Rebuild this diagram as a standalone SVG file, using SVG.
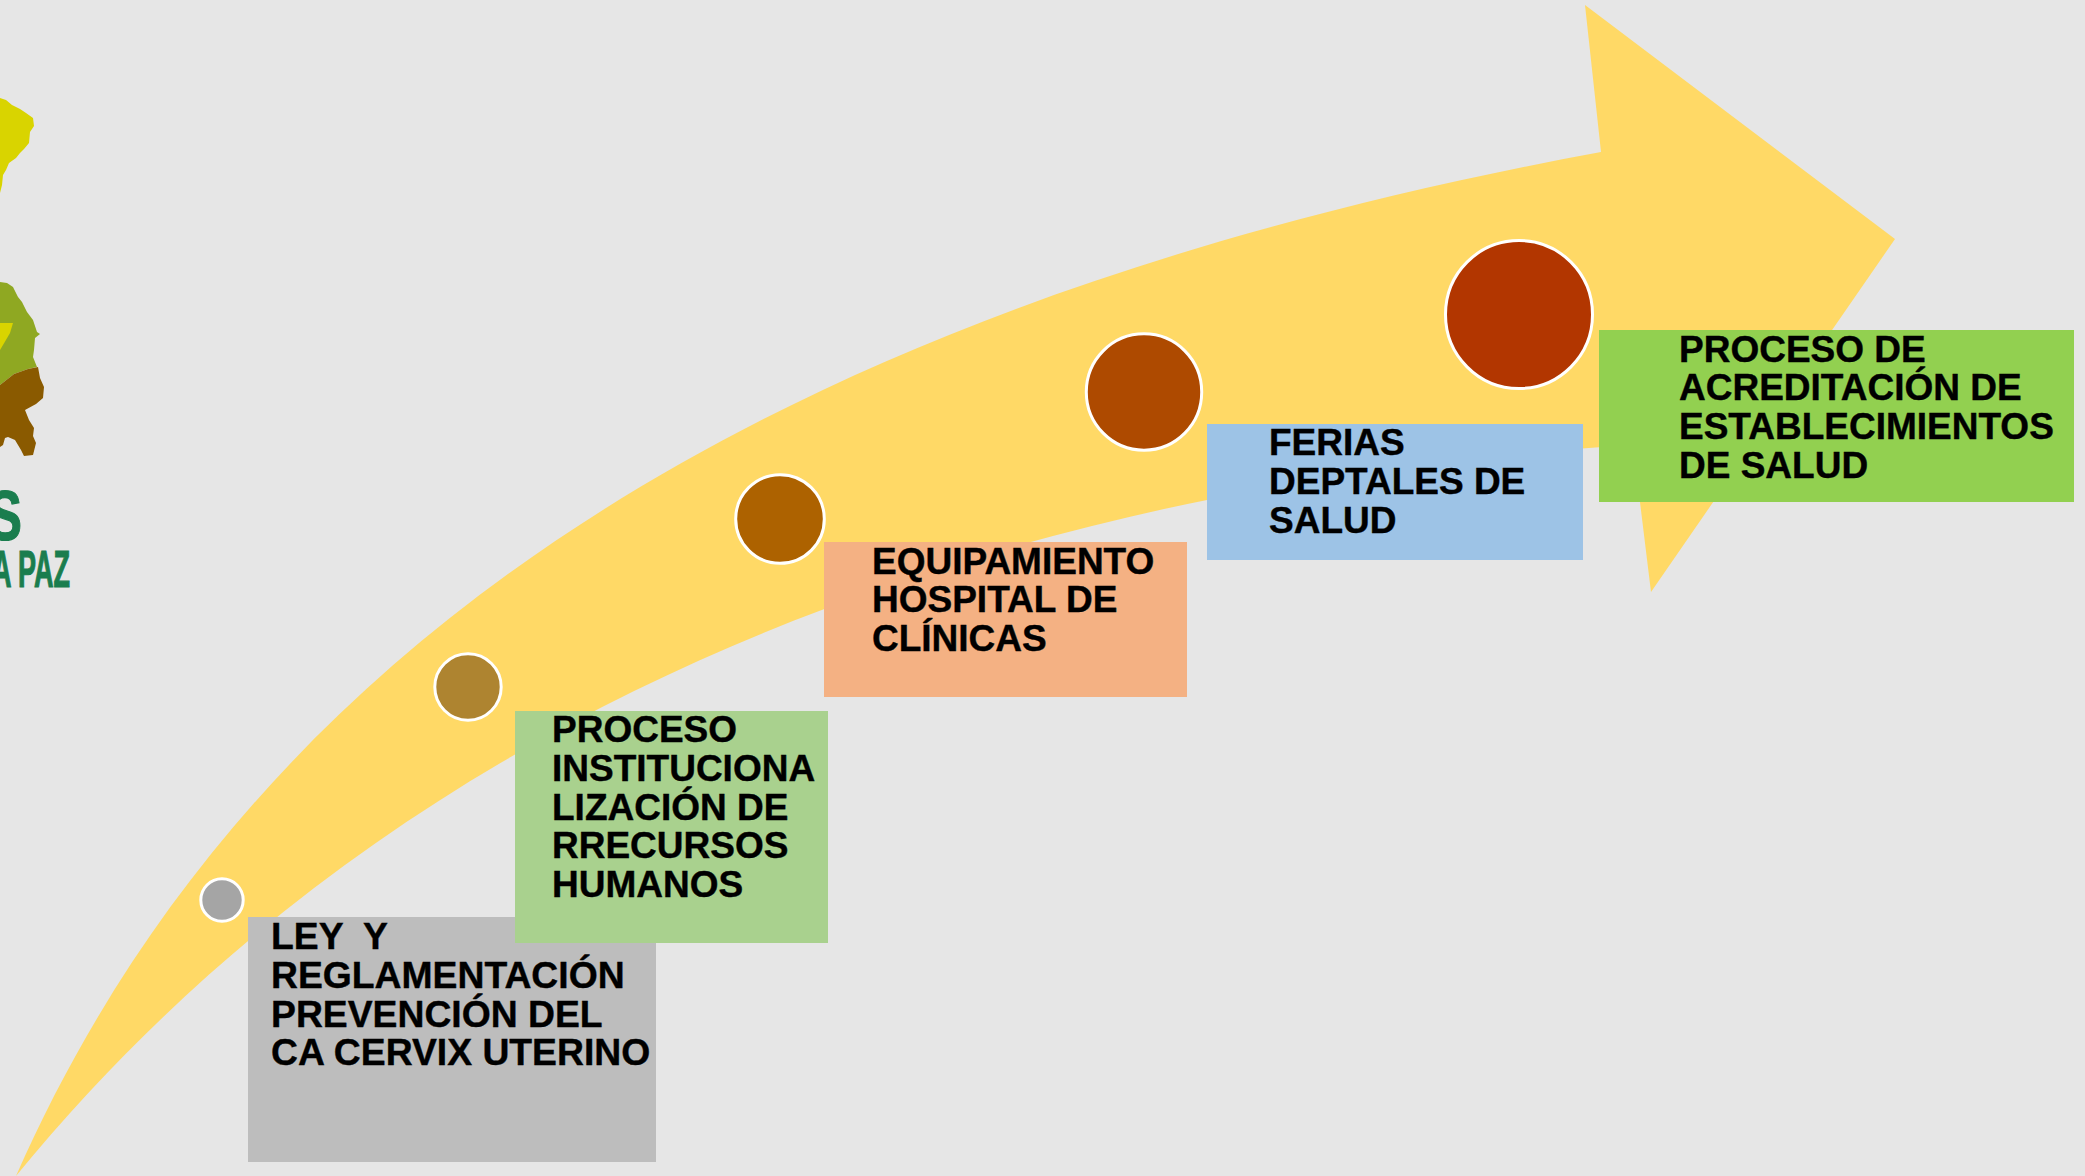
<svg xmlns="http://www.w3.org/2000/svg" width="2085" height="1176" viewBox="0 0 2085 1176">
<style>
.t{font-family:"Liberation Sans",Arial,sans-serif;font-weight:700;font-size:37px;fill:#000;stroke:#000;stroke-width:.4;white-space:pre}
.w{font-size:37.3px}
.c{stroke:#fff;stroke-width:3}
.l{font-family:"Liberation Sans",Arial,sans-serif;font-weight:700;fill:#1a7d4e;stroke:#1a7d4e;stroke-width:1.2}
</style>
<rect width="2085" height="1176" fill="#e6e6e6"/>
<g id="logo">
<path d="M0 98L6 100 12 105 20 109 26 113 33 118 34 126 30 132 29 143 24 149 20 153 16 158 9 163 6 170 3 175 2 185 0 193Z" fill="#d9d400"/>
<path d="M0 282L7 283 13 287 18 297 22 302 27 312 33 320 37 332 40 334 35 338 34 350 33 357 37 367 28 369 14 374 0 385Z" fill="#8fa822"/>
<path d="M0 323L13 323 10 333 3 345 0 350Z" fill="#d9d400"/>
<path d="M0 385L14 374 28 369 38 367 40 378 44 387 43 398 36 404 25 410 29 420 34 428 33 436 36 443 33 455 24 456 21 450 15 440 8 437 5 438 3 445 0 447Z" fill="#8a5a00"/>
<text class="l" font-size="70" x="-12" y="540" textLength="34" lengthAdjust="spacingAndGlyphs">S</text>
<text class="l" font-size="51" x="-8" y="587" textLength="78" lengthAdjust="spacingAndGlyphs">A PAZ</text>
</g>
<g id="connectors">
<path id="arrow" d="M16 1176C230 690 700 318 1601 152L1585 5 1895 239 1651 592 1633 445C1050 480 430 670 16 1176Z" fill="#ffd966"/>
</g>
<g id="n1"><rect x="248" y="917" width="408" height="245" fill="#bdbdbd"/><circle class="c" cx="222" cy="900" r="21.2" fill="#a5a5a5"/>
<text class="t w" x="271" y="949">LEY  Y</text><text class="t w" x="271" y="988">REGLAMENTACIÓN</text><text class="t w" x="271" y="1027">PREVENCIÓN DEL</text><text class="t w" x="271" y="1065">CA CERVIX UTERINO</text></g>
<g id="n2"><rect x="515" y="711" width="313" height="232" fill="#a9d18e"/><circle class="c" cx="468" cy="687" r="33.2" fill="#ae8430"/>
<text class="t" x="552" y="742">PROCESO</text><text class="t" x="552" y="781">INSTITUCIONA</text><text class="t" x="552" y="820">LIZACIÓN DE</text><text class="t" x="552" y="858">RRECURSOS</text><text class="t" x="552" y="897">HUMANOS</text></g>
<g id="n3"><rect x="824" y="542" width="363" height="155" fill="#f4b183"/><circle class="c" cx="780" cy="519" r="44.3" fill="#ad6200"/>
<text class="t" x="872" y="574">EQUIPAMIENTO</text><text class="t" x="872" y="612">HOSPITAL DE</text><text class="t" x="872" y="651">CLÍNICAS</text></g>
<g id="n4"><rect x="1207" y="424" width="376" height="136" fill="#9dc3e6"/><ellipse class="c" cx="1144" cy="392" rx="57.7" ry="58.2" fill="#ae4a00"/>
<text class="t" x="1269" y="455">FERIAS</text><text class="t" x="1269" y="494">DEPTALES DE</text><text class="t" x="1269" y="533">SALUD</text></g>
<g id="n5"><rect x="1599" y="330" width="475" height="172" fill="#92d050"/><ellipse class="c" cx="1519" cy="314.5" rx="73.5" ry="74" fill="#b23600"/>
<text class="t" x="1679" y="362">PROCESO DE</text><text class="t" x="1679" y="400">ACREDITACIÓN DE</text><text class="t" x="1679" y="439">ESTABLECIMIENTOS</text><text class="t" x="1679" y="478">DE SALUD</text></g>
</svg>
